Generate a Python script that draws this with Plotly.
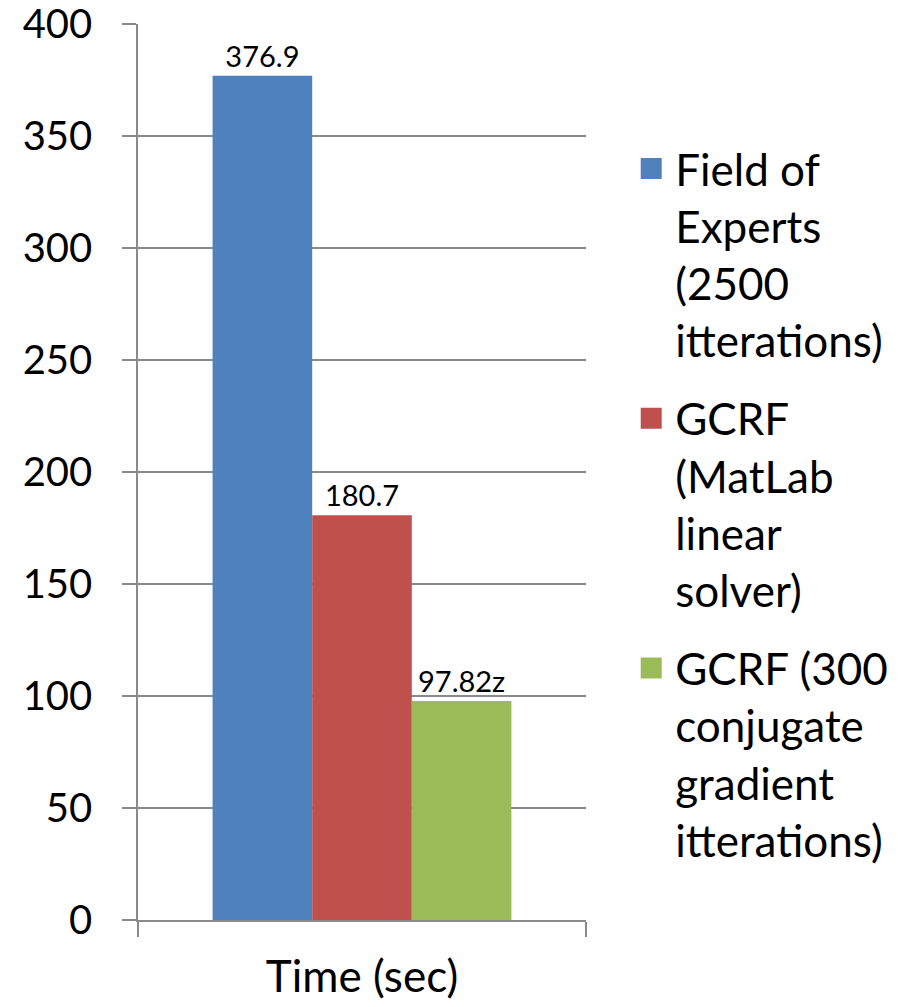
import plotly.graph_objects as go

# Category and series data
categories = ["Time (sec)"]
series_names = [
    "Field of<br>Experts<br>(2500<br>itterations)",
    "GCRF<br>(MatLab<br>linear<br>solver)",
    "GCRF (300<br>conjugate<br>gradient<br>itterations)",
]
series_values = [376.9, 180.7, 97.82]
label_suffixes = ["", "", "z"]
series_colors = ["#4F81BD", "#C0504D", "#9BBB59"]
y_tick_values = [0, 50, 100, 150, 200, 250, 300, 350, 400]

FONT = "Lato"
GRID = "#8a8a8a"

cat_index = list(range(len(categories)))

fig = go.Figure()

# Bars (legend entries are drawn by square-marker proxies below)
for name, val, suf, col in zip(series_names, series_values, label_suffixes, series_colors):
    fig.add_trace(go.Bar(
        x=cat_index,
        y=[val],
        name=name,
        showlegend=False,
        legendgroup=name,
        marker=dict(color=col, line=dict(width=0)),
        text=[f"{val}{suf}"],
        textposition="outside",
        textfont=dict(family=FONT, size=29, color="#000000"),
        cliponaxis=False,
    ))

# Legend proxies with larger square swatches
for name, col in zip(series_names, series_colors):
    fig.add_trace(go.Scatter(
        x=[None],
        y=[None],
        mode="markers",
        name=name,
        legendgroup=name,
        showlegend=True,
        marker=dict(symbol="square", size=16, color=col, line=dict(color=col, width=5)),
        hoverinfo="skip",
    ))

fig.update_layout(
    width=911,
    height=1007,
    margin=dict(l=138, r=325, t=24, b=87, autoexpand=False),
    paper_bgcolor="white",
    plot_bgcolor="white",
    barmode="group",
    bargap=0.333,
    bargroupgap=0,
    font=dict(family=FONT, color="#000000"),
    showlegend=True,
    legend=dict(
        x=1.092,
        y=0.878,
        xanchor="left",
        yanchor="top",
        valign="top",
        font=dict(family=FONT, size=44, color="#000000"),
        tracegroupgap=18,
        itemwidth=38,
        bgcolor="rgba(0,0,0,0)",
    ),
    xaxis=dict(
        range=[-0.5, 0.5],
        tickmode="array",
        tickvals=cat_index,
        ticktext=categories,
        ticks="",
        showgrid=False,
        zeroline=False,
        showline=True,
        linecolor=GRID,
        linewidth=1.5,
        automargin=False,
        tickfont=dict(family=FONT, size=44, color="#000000"),
        ticklabelstandoff=17,
        minor=dict(
            tickvals=[i - 0.5 for i in cat_index] + [cat_index[-1] + 0.5],
            ticks="outside",
            ticklen=15,
            tickcolor=GRID,
            tickwidth=1.5,
            showgrid=False,
        ),
        fixedrange=True,
    ),
    yaxis=dict(
        range=[0, 400],
        tickmode="array",
        tickvals=y_tick_values,
        ticks="outside",
        ticklen=14,
        tickcolor=GRID,
        tickwidth=1.5,
        showgrid=True,
        gridcolor=GRID,
        gridwidth=1.5,
        zeroline=False,
        showline=True,
        linecolor=GRID,
        linewidth=1.5,
        automargin=False,
        ticklabeloverflow="allow",
        tickfont=dict(family=FONT, size=40, color="#000000"),
        ticklabelstandoff=22,
        fixedrange=True,
    ),
)

fig.write_html("out.html")
